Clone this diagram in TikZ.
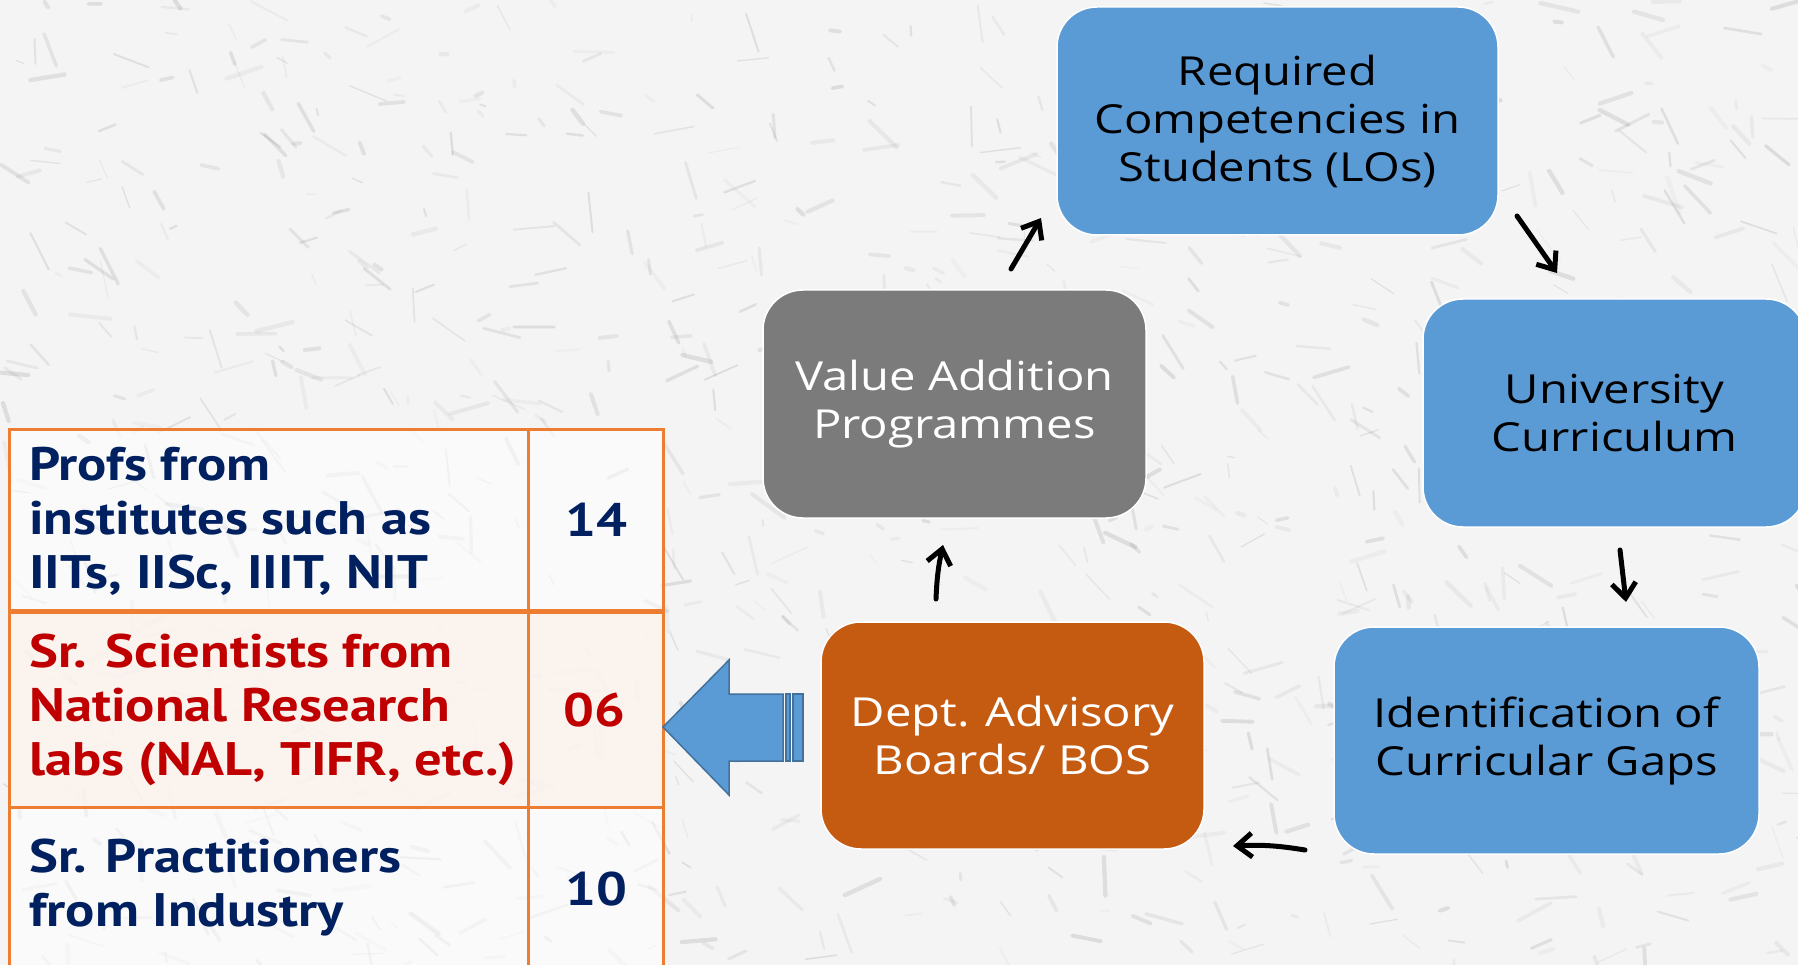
\documentclass[tikz,border=0pt]{standalone}
\usepackage{fontspec}
\setmainfont{Open Sans}[FakeStretch=1.18]
\newfontfamily\tabfont{PT Sans}[FakeStretch=1.16]
\usetikzlibrary{arrows.meta}
\definecolor{boxblue}{HTML}{5B9BD5}
\definecolor{boxgray}{HTML}{7B7B7B}
\definecolor{boxorange}{HTML}{C55A11}
\definecolor{tabline}{HTML}{ED7D31}
\definecolor{navy}{HTML}{002060}
\definecolor{darkred}{HTML}{C00000}
\definecolor{arrowedge}{HTML}{41719C}
\definecolor{rowpink}{HTML}{FBF3EE}
\definecolor{bgbase}{HTML}{F4F4F4}
\tikzset{
  cyclebox/.style={rectangle, rounded corners=40pt, draw=white, line width=1.5pt,
    minimum width=383pt, minimum height=228pt, align=center, inner sep=0pt,
    font=\fontsize{40}{48}\selectfont},
  flow/.style={line width=5pt, line cap=round,
    -{Straight Barb[length=15pt,width=24pt,line width=5pt]}},
  cell/.style={rectangle, draw=tabline, line width=2.5pt, inner sep=0pt, anchor=north west},
  celltext/.style={anchor=west, align=left, inner sep=0pt,
    font=\tabfont\bfseries\fontsize{47}{54}\selectfont},
  numtext/.style={inner sep=0pt, font=\tabfont\bfseries\fontsize{47}{54}\selectfont},
  blockarrow/.style={fill=boxblue, draw=arrowedge, line width=1.5pt, line join=miter}
}
\begin{document}
\begin{tikzpicture}[x=1pt,y=-1pt]
\useasboundingbox (0,0) rectangle (1798,965);
\clip (0,0) rectangle (1798,965);
% marble-like background
\fill[bgbase] (0,0) rectangle (1798,965);
\pgfmathsetseed{42}
\foreach \i in {1,...,1000}{
  \pgfmathsetmacro\xa{rnd*1798}
  \pgfmathsetmacro\ya{rnd*965}
  \pgfmathsetmacro\ang{rand*60+30}
  \pgfmathsetmacro\len{6+rnd*35}
  \pgfmathsetmacro\op{0.05+0.15*rnd}
  \pgfmathsetmacro\lw{1+rnd*3.5}
  \draw[gray, opacity=\op, line width=\lw pt, line cap=round] (\xa,\ya) -- ++(\ang:\len);
}
% table
\node[cell, fill=white, fill opacity=0.55, minimum width=519pt, minimum height=181pt] (r1a) at (8,428) {};
\node[cell, fill=white, fill opacity=0.55, minimum width=135pt, minimum height=181pt] (r1b) at (527,428) {};
\node[cell, fill=rowpink, fill opacity=0.9, minimum width=519pt, minimum height=197pt] (r2a) at (8,609) {};
\node[cell, fill=rowpink, fill opacity=0.9, minimum width=135pt, minimum height=197pt] (r2b) at (527,609) {};
\node[cell, fill=white, fill opacity=0.55, minimum width=519pt, minimum height=200pt] (r3a) at (8,806) {};
\node[cell, fill=white, fill opacity=0.55, minimum width=135pt, minimum height=200pt] (r3b) at (527,806) {};
\draw[tabline, line width=5pt] (r1a.south west) -- (r1b.south east);
\node[celltext, text=navy] (t1) at (29,521) {Profs from\\institutes such as\\IITs, IISc, IIIT, NIT};
\node[celltext, text=darkred] (t2) at (29,710) {Sr. Scientists from\\National Research\\labs (NAL, TIFR, etc.)};
\node[celltext, text=navy] (t3) at (29,888) {Sr. Practitioners\\from Industry};
\node[numtext, text=navy] (n1) at (596,520) {14};
\node[numtext, text=darkred] (n2) at (594,710) {06};
\node[numtext, text=navy] (n3) at (596,889) {10};
% cycle boxes
\node[cyclebox, fill=boxblue, minimum width=441pt] (req) at (1277.5,121) {Required\\Competencies in\\Students (LOs)};
\node[cyclebox, fill=boxblue] (uni) at (1614.5,413) {University\\Curriculum};
\node[cyclebox, fill=boxblue, minimum width=425pt, minimum height=227pt] (ide) at (1546.5,740.5) {Identification of\\Curricular Gaps};
\node[cyclebox, fill=boxorange, text=white, minimum height=227pt] (dept) at (1012.5,735.5) {Dept. Advisory\\Boards/ BOS};
\node[cyclebox, fill=boxgray, text=white] (val) at (954.5,404) {Value Addition\\Programmes};
% block arrow from dept to table
\draw[blockarrow] (663,727) -- (729,660) -- (729,694) -- (783,694) -- (783,761) -- (729,761) -- (729,795) -- cycle;
\draw[blockarrow] (786,694) rectangle (790,761);
\draw[blockarrow] (793,694) rectangle (803,761);
% flow arrows
\coordinate (a1s) at (1011,269); \coordinate (a1e) at (1041,218);
\coordinate (a2s) at (1517,216); \coordinate (a2e) at (1557,273);
\coordinate (a3s) at (1620,550); \coordinate (a3e) at (1626,602);
\coordinate (a4s) at (1305,850); \coordinate (a4e) at (1233,846);
\coordinate (a5s) at (936,599);  \coordinate (a5e) at (943,545);
\draw[flow] (a1s) -- (a1e);
\draw[flow] (a2s) -- (a2e);
\draw[flow] (a3s) -- (a3e);
\draw[flow] (a4s) to[bend right=6] (a4e);
\draw[flow] (a5s) to[bend left=5] (a5e);
\end{tikzpicture}
\end{document}
